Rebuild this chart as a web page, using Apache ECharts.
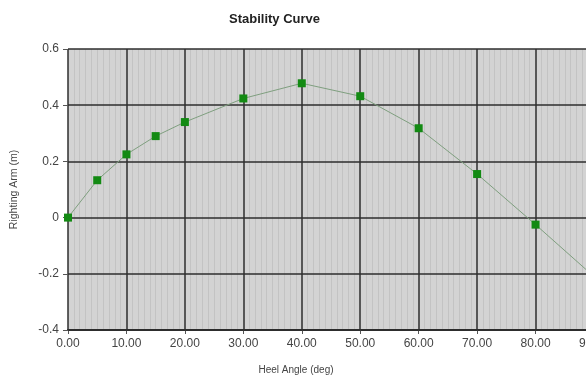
<!DOCTYPE html>
<html>
<head>
<meta charset="utf-8">
<script src="https://cdn.jsdelivr.net/npm/echarts@6/dist/echarts.min.js"></script>
<style>
  html, body { margin: 0; padding: 0; background: #fff; }
  #chart { width: 586px; height: 382px; }
</style>
</head>
<body>
<div id="chart"></div>
<script>
// heel angle (deg) vs righting arm (m)
var heelAngles = [0, 5, 10, 15, 20, 30, 40, 50, 60, 70, 80, 90];
var rightingArm = [0, 0.133, 0.225, 0.29, 0.34, 0.424, 0.478, 0.432, 0.318, 0.155, -0.025, -0.21];

var gridDark = '#2e2e2e';

var myChart = echarts.init(document.getElementById('chart'));
myChart.setOption({
    animation: false,
    backgroundColor: '#fff',
    title: {
        text: 'Stability Curve',
        left: 224,
        top: 8,
        textStyle: { fontFamily: 'Arial, Liberation Sans', fontSize: 13, fontWeight: 'bold', color: '#222' }
    },
    grid: {
        left: 68, top: 49, width: 526, height: 281,
        outerBoundsMode: 'none', containLabel: false,
        show: true, backgroundColor: '#d3d3d3', borderWidth: 0
    },
    xAxis: {
        type: 'value',
        min: 0,
        max: 90,
        interval: 10,
        z: 0,
        name: 'Heel Angle (deg)',
        nameLocation: 'middle',
        nameGap: 35,
        nameTextStyle: { fontFamily: 'Arial, Liberation Sans', fontSize: 10, color: '#444', padding: [0, 70, 0, 0] },
        axisLine: { show: true, onZero: false, lineStyle: { color: gridDark, width: 2 } },
        axisTick: { show: true, length: 4, lineStyle: { color: '#555' } },
        axisLabel: {
            fontFamily: 'Arial, Liberation Sans', fontSize: 12, color: '#444', margin: 8,
            formatter: function (v) { return v.toFixed(2); }
        },
        splitLine: { show: true, lineStyle: { color: gridDark, width: 1.5, type: 'solid' } },
        minorTick: { show: false, splitNumber: 10 },
        minorSplitLine: { show: true, lineStyle: { color: '#c3c3c3', width: 1, type: 'solid' } }
    },
    yAxis: {
        type: 'value',
        min: -0.4,
        max: 0.6,
        interval: 0.2,
        z: 1,
        name: 'Righting Arm (m)',
        nameLocation: 'middle',
        nameGap: 48,
        nameTextStyle: { fontFamily: 'Arial, Liberation Sans', fontSize: 10.5, color: '#444' },
        axisLine: { show: false },
        axisTick: { show: true, length: 5, lineStyle: { color: '#555' } },
        axisLabel: {
            fontFamily: 'Arial, Liberation Sans', fontSize: 12, color: '#444', margin: 9,
            formatter: function (v) { return v === 0 ? '0' : (Math.round(v * 10) / 10).toString(); }
        },
        splitLine: { show: true, lineStyle: { color: gridDark, width: 1.5, type: 'solid' } }
    },
    series: [
        {
            type: 'line',
            z: 3,
            data: heelAngles.map(function (a, i) { return [a, rightingArm[i]]; }),
            symbol: 'rect',
            symbolSize: 8,
            itemStyle: { color: '#138a13' },
            lineStyle: { color: '#7f9f7f', width: 1 },
            clip: false
        }
    ]
});
</script>
</body>
</html>
